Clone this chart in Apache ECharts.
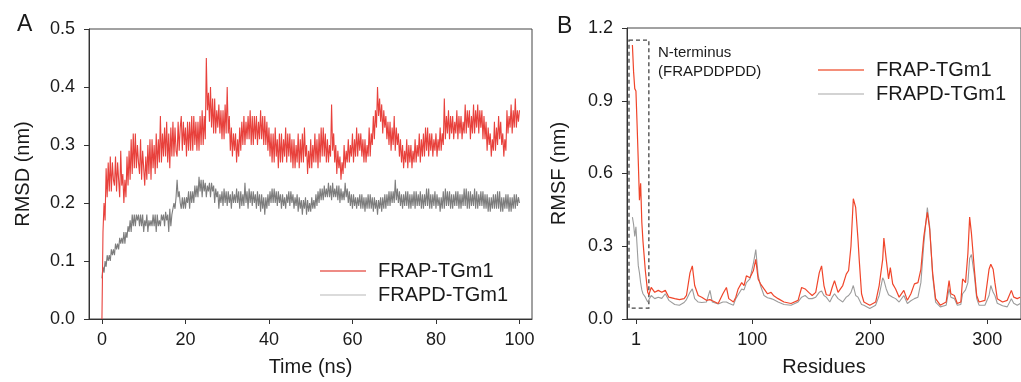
<!DOCTYPE html>
<html>
<head>
<meta charset="utf-8">
<script src="https://cdn.jsdelivr.net/npm/echarts@6/dist/echarts.min.js"></script>
<style>
html,body{margin:0;padding:0;background:#fff;}
#chart{width:1021px;height:382px;}
</style>
</head>
<body>
<div id="chart"></div>
<script>
// ---------- Panel A: RMSD (nm) vs time (ns), sampled every 0.25 ns (4 values per ns) ----------
const timeStep = 0.25;
const rmsdFRAP = [
0.00,0.15,0.20,0.17, 0.26,0.21,0.27,0.22, 0.28,0.22,0.27,0.24, 0.23,0.28,0.22,0.27, 0.27,0.21,0.29,0.23,
0.25,0.20,0.24,0.21, 0.28,0.23,0.29,0.24, 0.31,0.25,0.32,0.26, 0.32,0.26,0.30,0.27, 0.25,0.31,0.24,0.29,
0.29,0.23,0.28,0.24, 0.30,0.25,0.31,0.24, 0.31,0.26,0.30,0.25, 0.32,0.26,0.31,0.27, 0.35,0.27,0.32,0.28,
0.33,0.28,0.34,0.27, 0.32,0.26,0.33,0.28, 0.34,0.28,0.33,0.29, 0.28,0.34,0.29,0.33, 0.35,0.29,0.34,0.30,
0.33,0.28,0.34,0.29, 0.34,0.29,0.35,0.29, 0.35,0.30,0.34,0.29, 0.34,0.29,0.35,0.30, 0.36,0.30,0.35,0.31,
0.45,0.36,0.39,0.34, 0.40,0.33,0.38,0.32, 0.38,0.32,0.36,0.33, 0.37,0.32,0.36,0.31, 0.36,0.31,0.37,0.32,
0.40,0.32,0.35,0.29, 0.33,0.28,0.32,0.29, 0.32,0.27,0.31,0.28, 0.33,0.29,0.34,0.30, 0.35,0.30,0.34,0.31,
0.35,0.31,0.36,0.30, 0.35,0.30,0.35,0.31, 0.35,0.30,0.34,0.31, 0.36,0.31,0.35,0.30, 0.35,0.30,0.34,0.29,
0.33,0.28,0.32,0.27, 0.32,0.27,0.33,0.28, 0.31,0.26,0.32,0.27, 0.32,0.27,0.31,0.28, 0.33,0.27,0.32,0.28,
0.32,0.27,0.31,0.26, 0.31,0.26,0.30,0.27, 0.32,0.26,0.31,0.27, 0.32,0.27,0.33,0.28, 0.30,0.25,0.29,0.26,
0.31,0.26,0.30,0.27, 0.32,0.27,0.31,0.26, 0.32,0.27,0.33,0.28, 0.33,0.28,0.32,0.27, 0.31,0.27,0.30,0.28,
0.37,0.29,0.32,0.27, 0.30,0.25,0.29,0.26, 0.28,0.24,0.27,0.25, 0.30,0.26,0.29,0.27, 0.31,0.27,0.30,0.28,
0.32,0.27,0.31,0.28, 0.33,0.28,0.32,0.29, 0.32,0.28,0.31,0.27, 0.31,0.27,0.30,0.28, 0.33,0.28,0.32,0.30,
0.35,0.31,0.36,0.33, 0.40,0.35,0.38,0.34, 0.37,0.32,0.36,0.33, 0.35,0.31,0.34,0.30, 0.34,0.29,0.33,0.30,
0.35,0.29,0.33,0.30, 0.32,0.28,0.31,0.27, 0.30,0.26,0.29,0.27, 0.31,0.26,0.30,0.27, 0.30,0.26,0.29,0.27,
0.31,0.27,0.30,0.28, 0.32,0.27,0.31,0.28, 0.32,0.28,0.33,0.29, 0.33,0.28,0.32,0.29, 0.32,0.28,0.31,0.29,
0.32,0.28,0.31,0.29, 0.33,0.29,0.32,0.30, 0.38,0.31,0.35,0.32, 0.36,0.31,0.35,0.32, 0.35,0.31,0.34,0.32,
0.36,0.31,0.35,0.32, 0.35,0.31,0.34,0.32, 0.37,0.32,0.36,0.33, 0.36,0.31,0.35,0.32, 0.37,0.32,0.36,0.33,
0.37,0.32,0.36,0.33, 0.36,0.31,0.35,0.31, 0.34,0.29,0.33,0.30, 0.32,0.28,0.31,0.29, 0.34,0.29,0.33,0.30,
0.35,0.31,0.34,0.30, 0.32,0.28,0.31,0.29, 0.36,0.32,0.35,0.33, 0.37,0.32,0.36,0.33, 0.38,0.33,0.36,0.34,
0.36
];
const rmsdFRAPD = [
0.07,0.09,0.08,0.10, 0.09,0.11,0.10,0.11, 0.10,0.12,0.11,0.12, 0.11,0.13,0.12,0.13, 0.12,0.14,0.13,0.14,
0.13,0.15,0.13,0.15, 0.14,0.16,0.15,0.17, 0.15,0.18,0.16,0.18, 0.16,0.18,0.17,0.18, 0.16,0.18,0.16,0.18,
0.15,0.17,0.16,0.18, 0.15,0.17,0.16,0.17, 0.16,0.18,0.16,0.18, 0.15,0.18,0.16,0.17, 0.16,0.18,0.17,0.18,
0.16,0.185,0.17,0.18, 0.15,0.19,0.16,0.18, 0.18,0.20,0.19,0.21, 0.24,0.21,0.22,0.20, 0.19,0.21,0.19,0.21,
0.19,0.21,0.20,0.22, 0.19,0.22,0.20,0.22, 0.20,0.23,0.21,0.23, 0.21,0.245,0.22,0.24, 0.21,0.24,0.22,0.235,
0.21,0.23,0.22,0.235, 0.21,0.235,0.22,0.23, 0.20,0.225,0.21,0.22, 0.19,0.215,0.20,0.22, 0.195,0.225,0.20,0.22,
0.195,0.22,0.20,0.215, 0.19,0.22,0.20,0.215, 0.20,0.225,0.20,0.22, 0.19,0.22,0.195,0.215, 0.195,0.235,0.20,0.22,
0.19,0.225,0.20,0.22, 0.195,0.22,0.20,0.215, 0.19,0.22,0.195,0.215, 0.185,0.215,0.19,0.21, 0.18,0.21,0.19,0.215,
0.195,0.22,0.20,0.225, 0.20,0.225,0.20,0.22, 0.195,0.22,0.20,0.215, 0.19,0.215,0.195,0.21, 0.19,0.215,0.20,0.22,
0.195,0.22,0.20,0.215, 0.19,0.21,0.195,0.215, 0.185,0.21,0.19,0.205, 0.18,0.205,0.19,0.21, 0.18,0.205,0.185,0.20,
0.185,0.21,0.19,0.205, 0.19,0.215,0.195,0.22, 0.20,0.225,0.205,0.225, 0.205,0.23,0.21,0.225, 0.21,0.235,0.21,0.23,
0.205,0.235,0.21,0.225, 0.21,0.23,0.205,0.23, 0.20,0.225,0.205,0.22, 0.205,0.235,0.21,0.225, 0.20,0.22,0.195,0.215,
0.19,0.215,0.195,0.21, 0.19,0.21,0.195,0.215, 0.19,0.215,0.19,0.21, 0.185,0.21,0.19,0.215, 0.19,0.215,0.19,0.21,
0.185,0.21,0.19,0.205, 0.18,0.205,0.19,0.21, 0.185,0.21,0.19,0.215, 0.19,0.215,0.195,0.22, 0.195,0.22,0.20,0.22,
0.20,0.24,0.205,0.225, 0.20,0.22,0.195,0.215, 0.19,0.215,0.195,0.22, 0.195,0.22,0.19,0.215, 0.19,0.215,0.195,0.22,
0.19,0.22,0.195,0.215, 0.195,0.22,0.19,0.215, 0.19,0.215,0.195,0.225, 0.195,0.225,0.19,0.215, 0.19,0.215,0.195,0.22,
0.19,0.215,0.195,0.21, 0.185,0.21,0.19,0.22, 0.19,0.225,0.195,0.22, 0.195,0.22,0.19,0.215, 0.19,0.215,0.195,0.22,
0.195,0.22,0.19,0.215, 0.19,0.215,0.195,0.225, 0.195,0.225,0.19,0.22, 0.19,0.22,0.195,0.215, 0.195,0.225,0.19,0.22,
0.19,0.215,0.195,0.22, 0.195,0.22,0.19,0.215, 0.19,0.215,0.185,0.21, 0.185,0.21,0.19,0.215, 0.19,0.215,0.19,0.22,
0.19,0.22,0.185,0.21, 0.185,0.21,0.19,0.215, 0.19,0.215,0.185,0.21, 0.185,0.21,0.19,0.215, 0.19,0.215,0.195,0.21,
0.20
];
const timeTicks = [0, 20, 40, 60, 80, 100];

// ---------- Panel B: RMSF (nm) per residue ----------
const residues = [
-2,-1,0,1,2,3,4,5,6,7,9,11,12,14,17,20,23,26,29,34,38,42,44,47,49,51,54,57,61,64,66,71,75,78,80,84,86,88,91,93,95,98,101,103,105,107,110,113,116,118,122,127,133,139,142,145,148,151,154,157,159,161,163,166,168,170,173,177,180,182,184,186,188,190,191,193,195,200,205,208,211,212,214,216,217.5,219.5,222,225,229,232,235,238,241,243.5,246,249,251,253.5,256,260,265,267.5,269,272,274.5,277.5,279,281.5,283.5,285,286.5,289,291,293,298,301.5,303,305,306.5,308.5,313,317,320.5,322.5,325.5,328
];
const rmsfFRAP = [
1.13,1.02,0.95,0.94,0.80,0.65,0.49,0.56,0.40,0.32,0.20,0.11,0.10,0.13,0.11,0.118,0.11,0.118,0.09,0.084,0.08,0.084,0.097,0.19,0.219,0.138,0.097,0.09,0.077,0.08,0.075,0.064,0.104,0.13,0.084,0.07,0.09,0.124,0.15,0.138,0.178,0.17,0.20,0.246,0.165,0.145,0.124,0.104,0.11,0.097,0.084,0.07,0.064,0.077,0.13,0.124,0.11,0.097,0.11,0.19,0.219,0.138,0.10,0.097,0.13,0.158,0.11,0.138,0.185,0.20,0.30,0.496,0.46,0.327,0.246,0.104,0.07,0.057,0.07,0.138,0.246,0.334,0.246,0.165,0.212,0.145,0.124,0.09,0.118,0.077,0.104,0.145,0.15,0.205,0.34,0.44,0.37,0.19,0.084,0.057,0.07,0.158,0.104,0.097,0.064,0.07,0.165,0.15,0.27,0.42,0.354,0.205,0.097,0.07,0.077,0.205,0.226,0.205,0.15,0.084,0.07,0.077,0.118,0.09,0.084,0.09
];
const rmsfFRAPD = [
0.42,0.39,0.34,0.38,0.30,0.22,0.19,0.15,0.12,0.104,0.09,0.07,0.077,0.097,0.084,0.09,0.085,0.104,0.077,0.06,0.057,0.068,0.08,0.11,0.124,0.084,0.07,0.068,0.07,0.118,0.07,0.062,0.07,0.07,0.065,0.057,0.084,0.10,0.124,0.12,0.15,0.165,0.23,0.286,0.18,0.138,0.097,0.088,0.084,0.08,0.07,0.06,0.057,0.07,0.09,0.097,0.084,0.084,0.09,0.11,0.115,0.097,0.09,0.07,0.09,0.104,0.084,0.07,0.09,0.097,0.11,0.138,0.097,0.09,0.09,0.06,0.057,0.043,0.057,0.097,0.17,0.16,0.124,0.10,0.097,0.09,0.084,0.07,0.097,0.064,0.075,0.084,0.09,0.15,0.31,0.46,0.38,0.178,0.07,0.05,0.057,0.124,0.09,0.084,0.057,0.06,0.104,0.12,0.15,0.25,0.266,0.18,0.084,0.057,0.057,0.097,0.138,0.11,0.097,0.065,0.055,0.05,0.084,0.065,0.057,0.064
];
const residueTicks = [1, 100, 200, 300];
const seriesNames = ['FRAP-TGm1', 'FRAPD-TGm1'];

// ---------- build ----------
const pairsT = arr => arr.map((v, i) => [i * timeStep, v]);
const pairsR = arr => arr.map((v, i) => [residues[i], v]);

const FONT = '"Liberation Sans", Arial, sans-serif';
const txt = '#1a1a1a';
const axisLineStyle = { color: '#333', width: 1 };

function xAxisCfg(grid, min, max, ticks, name) {
  return {
    type: 'value', gridIndex: grid, min, max,
    axisLine: { show: true, onZero: false, lineStyle: axisLineStyle },
    axisTick: { show: true, inside: false, length: 5, lineStyle: axisLineStyle, customValues: ticks },
    axisLabel: { customValues: ticks, fontSize: 18, fontFamily: FONT, color: txt, margin: 12 },
    splitLine: { show: false },
    name, nameLocation: 'middle', nameGap: 38,
    nameTextStyle: { fontSize: 20, fontFamily: FONT, color: txt }
  };
}
function yAxisCfg(grid, max, interval, name, gap) {
  return {
    type: 'value', gridIndex: grid, min: 0, max, interval,
    axisLine: { show: true, onZero: false, lineStyle: axisLineStyle },
    axisTick: { show: true, inside: false, length: 5, lineStyle: axisLineStyle },
    axisLabel: { fontSize: 18, fontFamily: FONT, color: txt, margin: 14, formatter: v => v.toFixed(1) },
    splitLine: { show: false },
    name, nameLocation: 'middle', nameGap: gap, nameRotate: 90,
    nameTextStyle: { fontSize: 20, fontFamily: FONT, color: txt }
  };
}

const redA = '#e8413c', grayA = '#7d7d7d';
const redB = '#f0452a', grayB = '#9c9c9c';

function legendCfg(left, top, c0, c1) {
  return {
    left, top, orient: 'vertical', icon: 'rect', itemWidth: 46, itemHeight: 1.5, itemGap: 4,
    textStyle: { fontSize: 20, fontFamily: FONT, color: txt, lineHeight: 20, padding: [0, 0, 0, 7] },
    data: [
      { name: seriesNames[0], itemStyle: { color: c0 } },
      { name: seriesNames[1], itemStyle: { color: c1 } }
    ],
    selectedMode: false
  };
}

const chart = echarts.init(document.getElementById('chart'), null, { renderer: 'canvas' });
chart.setOption({
  animation: false,
  backgroundColor: '#fff',
  grid: [
    { left: 89, top: 29, width: 443, height: 295, show: true, borderColor: '#444', borderWidth: 1, backgroundColor: 'transparent' },
    { left: 627, top: 28, width: 397, height: 296, show: true, borderColor: '#444', borderWidth: 1, backgroundColor: 'transparent' }
  ],
  xAxis: [
    xAxisCfg(0, -3.1, 103, timeTicks, 'Time (ns)'),
    xAxisCfg(1, -6.6, 328.7, residueTicks, 'Residues')
  ],
  yAxis: [
    yAxisCfg(0, 0.5, 0.1, 'RMSD (nm)', 56),
    yAxisCfg(1, 1.2, 0.3, 'RMSF (nm)', 58)
  ],
  legend: [
    legendCfg(315, 256, '#e8645c', '#cfcfcf'),
    legendCfg(813, 55, '#f06a4e', '#c4c4c4')
  ],
  series: [
    { name: seriesNames[0], type: 'line', xAxisIndex: 0, yAxisIndex: 0, data: pairsT(rmsdFRAP),
      showSymbol: false, symbol: 'none', sampling: null, lineStyle: { color: redA, width: 1.1 }, itemStyle: { color: redA }, z: 3 },
    { name: seriesNames[1], type: 'line', xAxisIndex: 0, yAxisIndex: 0, data: pairsT(rmsdFRAPD),
      showSymbol: false, symbol: 'none', sampling: null, lineStyle: { color: grayA, width: 1.1 }, itemStyle: { color: grayA }, z: 2 },
    { name: seriesNames[1], type: 'line', xAxisIndex: 1, yAxisIndex: 1, data: pairsR(rmsfFRAPD),
      showSymbol: false, symbol: 'none', lineStyle: { color: grayB, width: 1.1 }, itemStyle: { color: grayB }, z: 2,
      markArea: {
        silent: true,
        itemStyle: { color: 'rgba(0,0,0,0)', borderColor: '#444', borderWidth: 1.3, borderType: [4, 3] },
        data: [[{ coord: [-4.9, 1.15] }, { coord: [12, 0.045] }]]
      } },
    { name: seriesNames[0], type: 'line', xAxisIndex: 1, yAxisIndex: 1, data: pairsR(rmsfFRAP),
      showSymbol: false, symbol: 'none', lineStyle: { color: redB, width: 1.2 }, itemStyle: { color: redB }, z: 3 }
  ],
  graphic: [
    { type: 'text', left: 17, top: 13, style: { text: 'A', fontSize: 23, fontFamily: FONT, fill: txt } },
    { type: 'text', left: 557, top: 15, style: { text: 'B', fontSize: 23, fontFamily: FONT, fill: txt } },
    { type: 'text', left: 658, top: 45, style: { text: 'N-terminus', fontSize: 15, fontFamily: FONT, fill: txt } },
    { type: 'text', left: 658, top: 64, style: { text: '(FRAPDDPDD)', fontSize: 15, fontFamily: FONT, fill: txt } }
  ]
});
</script>
</body>
</html>
